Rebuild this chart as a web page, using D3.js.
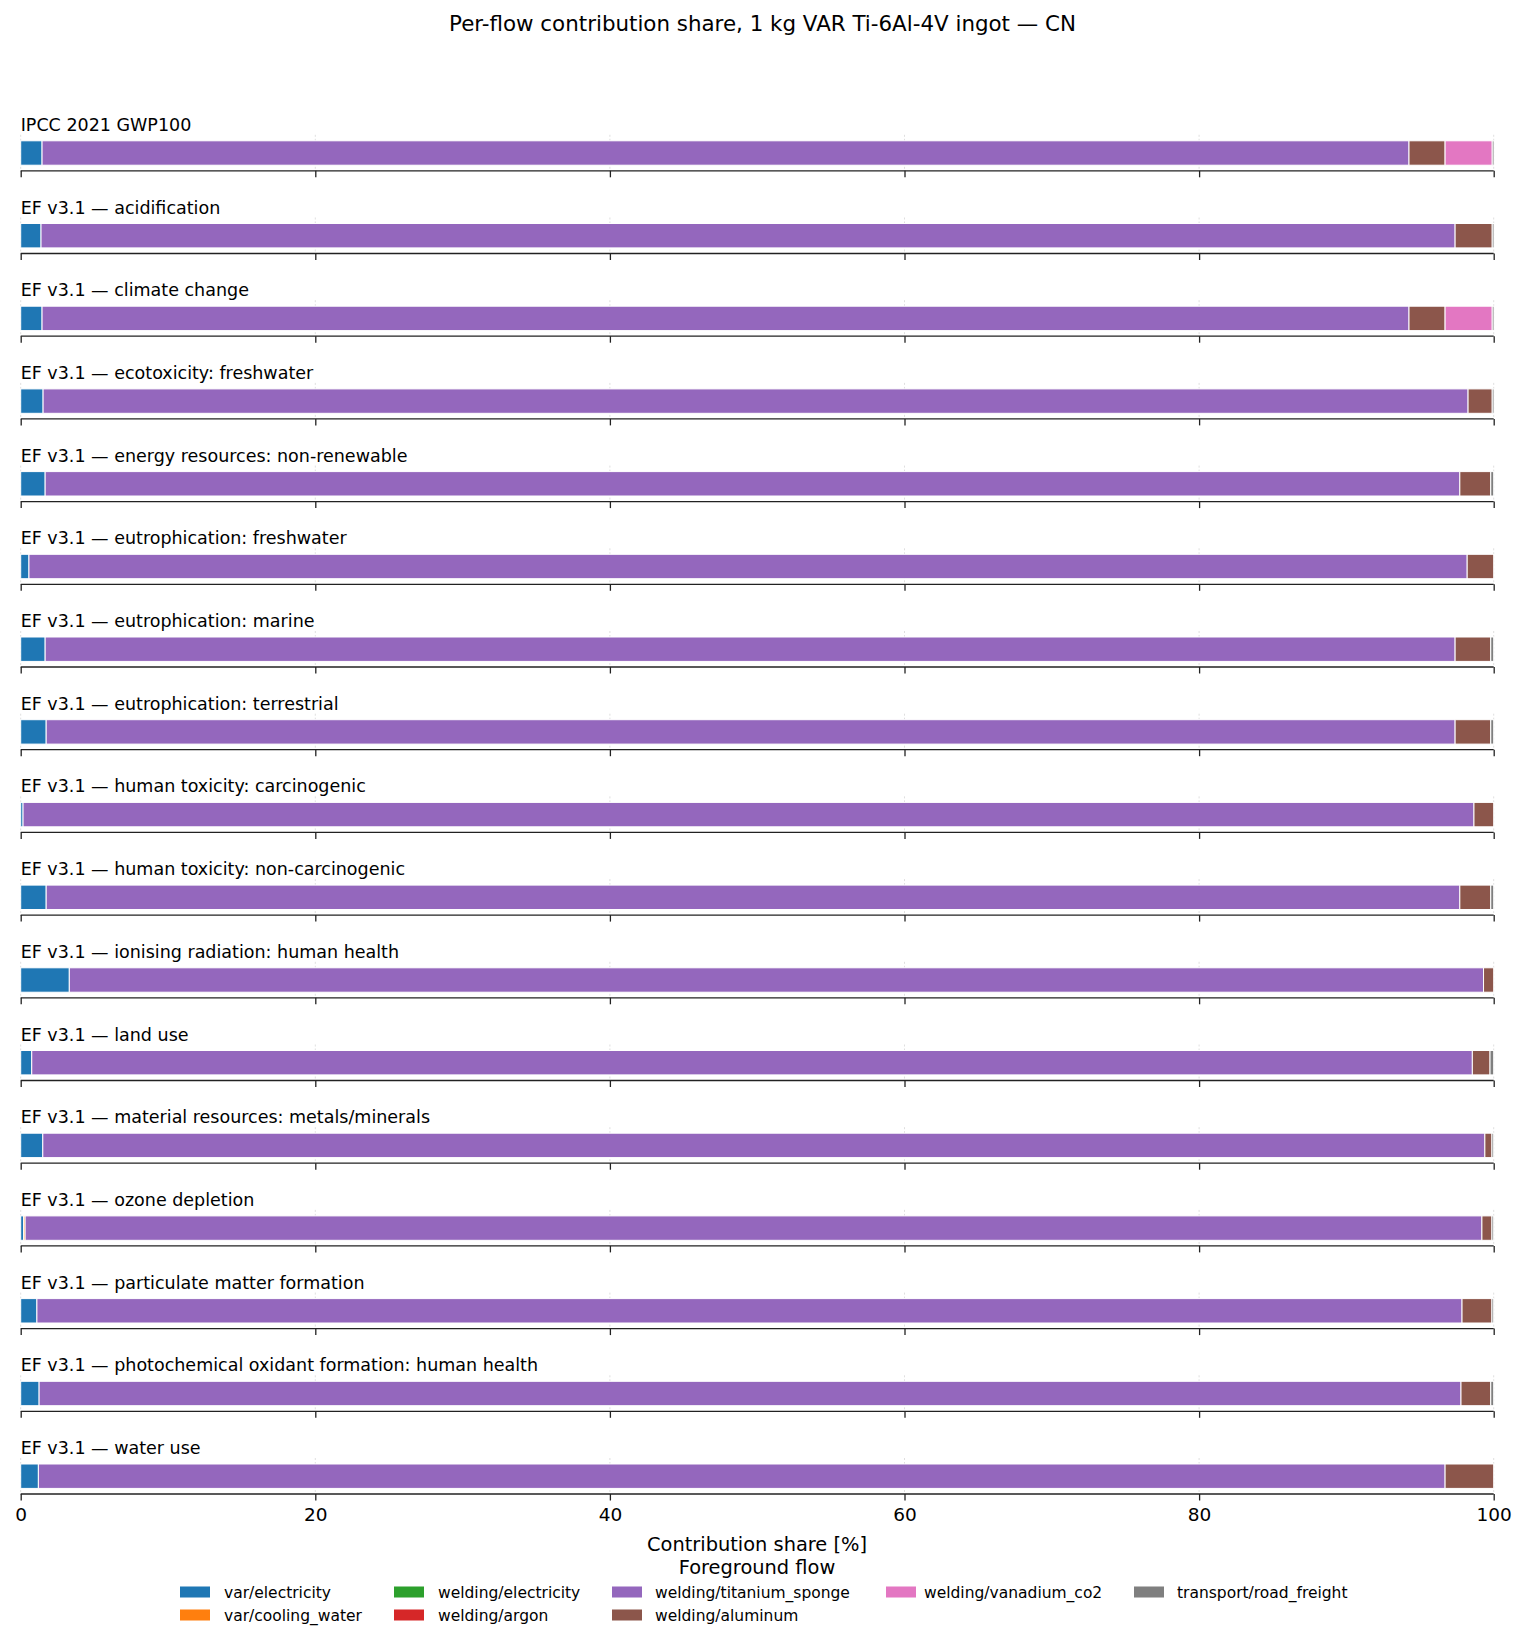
<!DOCTYPE html>
<meta charset="utf-8">
<style>
body { margin: 0; background: #fff; }
text { font-family: "DejaVu Sans", sans-serif; fill: #000; }
.spine path.domain { stroke: #222; stroke-width: 1.3px; }
.spine .tick line { stroke: #222; stroke-width: 1.3px; }
.spine .tick text { font-size: 18.5px; }
.grid line { stroke: #b0b0b0; stroke-opacity: 0.4; stroke-dasharray: 2,2; }
.seg rect { stroke: #fff; stroke-width: 1; }
</style>
<svg width="1525" height="1645"></svg>

<script src="https://cdn.jsdelivr.net/npm/d3@7"></script>
<script>

var categories = [
  "IPCC 2021 GWP100",
  "EF v3.1 — acidification",
  "EF v3.1 — climate change",
  "EF v3.1 — ecotoxicity: freshwater",
  "EF v3.1 — energy resources: non-renewable",
  "EF v3.1 — eutrophication: freshwater",
  "EF v3.1 — eutrophication: marine",
  "EF v3.1 — eutrophication: terrestrial",
  "EF v3.1 — human toxicity: carcinogenic",
  "EF v3.1 — human toxicity: non-carcinogenic",
  "EF v3.1 — ionising radiation: human health",
  "EF v3.1 — land use",
  "EF v3.1 — material resources: metals/minerals",
  "EF v3.1 — ozone depletion",
  "EF v3.1 — particulate matter formation",
  "EF v3.1 — photochemical oxidant formation: human health",
  "EF v3.1 — water use"
];

var flows = [
  "var/electricity", "var/cooling_water", "welding/electricity", "welding/argon",
  "welding/titanium_sponge", "welding/aluminum", "welding/vanadium_co2", "transport/road_freight"
];

// shares in %, one value per category
var varElectricity     = [1.45, 1.38, 1.45, 1.52, 1.66, 0.56, 1.66, 1.73, 0.16, 1.73, 3.30, 0.75, 1.50, 0.20, 1.10, 1.25, 1.20];
var varCoolingWater    = [0, 0, 0, 0, 0, 0, 0, 0, 0, 0, 0, 0, 0, 0.10, 0, 0, 0];
var weldingElectricity = [0, 0, 0, 0, 0, 0, 0, 0, 0, 0, 0, 0, 0, 0, 0, 0, 0];
var weldingArgon       = [0, 0, 0, 0, 0, 0, 0, 0, 0, 0, 0, 0, 0, 0, 0, 0, 0];
var titaniumSponge     = [92.80, 96.00, 92.80, 96.74, 96.04, 97.64, 95.72, 95.65, 98.50, 95.97, 96.01, 97.80, 97.90, 98.90, 96.75, 96.53, 95.50];
var weldingAluminum    = [2.45, 2.52, 2.45, 1.64, 2.10, 1.80, 2.42, 2.42, 1.34, 2.10, 0.69, 1.20, 0.48, 0.68, 2.03, 2.02, 3.30];
var vanadiumCo2        = [3.20, 0, 3.20, 0, 0, 0, 0, 0, 0, 0, 0, 0, 0, 0, 0, 0, 0];
var roadFreight        = [0.12, 0.12, 0.12, 0.12, 0.20, 0, 0.20, 0.20, 0, 0.20, 0, 0.25, 0.12, 0.12, 0.12, 0.20, 0];

var xTicks = [0, 20, 40, 60, 80, 100];

var series = [varElectricity, varCoolingWater, weldingElectricity, weldingArgon,
              titaniumSponge, weldingAluminum, vanadiumCo2, roadFreight];

var rows = categories.map(function(c, i) {
  var r = {name: c};
  flows.forEach(function(f, j) { r[f] = series[j][i]; });
  return r;
});

var svg = d3.select("svg");

var x = d3.scaleLinear().domain([0, 100]).range([20.7, 1493.7]);

var step = 82.7;
var y = d3.scaleBand().domain(categories).range([170.8 - step, 170.8 - step + categories.length * step]);

var z = d3.scaleOrdinal()
    .domain(flows)
    .range(["#1f77b4", "#ff7f0e", "#2ca02c", "#d62728", "#9467bd", "#8c564b", "#e377c2", "#7f7f7f"]);

var stacked = d3.stack().keys(flows)(rows);

// title
svg.append("text")
    .attr("x", 762.5)
    .attr("y", 30.5)
    .attr("text-anchor", "middle")
    .style("font-size", "21.4px")
    .text("Per-flow contribution share, 1 kg VAR Ti-6Al-4V ingot — CN");

var panels = svg.selectAll("g.panel")
  .data(categories)
  .enter().append("g")
    .attr("class", "panel")
    .attr("transform", function(d) { return "translate(0," + (y(d) + step) + ")"; });

// faint grid
panels.append("g")
    .attr("class", "grid")
  .selectAll("line")
  .data(xTicks)
  .enter().append("line")
    .attr("x1", function(d) { return x(d); })
    .attr("x2", function(d) { return x(d); })
    .attr("y1", -36)
    .attr("y2", 0);

panels.append("text")
    .attr("x", x(0))
    .attr("y", -40)
    .style("font-size", "17.5px")
    .text(function(d) { return d; });

panels.each(function(d, i) {
  var g = d3.select(this);
  g.append("g")
      .attr("class", "spine")
      .call(d3.axisBottom(x)
        .tickValues(xTicks)
        .tickSize(6.5)
        .tickSizeOuter(0)
        .tickPadding(7)
        .tickFormat(i === categories.length - 1 ? d3.format("d") : function() { return ""; }));
  g.select(".domain").attr("d", "M" + x(0) + ",0H" + x(100));
});

// stacked segments
var barTop = -30, barH = 24.4;
svg.append("g")
    .attr("class", "seg")
  .selectAll("g")
  .data(stacked)
  .enter().append("g")
    .attr("fill", function(d) { return z(d.key); })
  .selectAll("rect")
  .data(function(d) { return d.filter(function(p) { return p[1] - p[0] > 0; }); })
  .enter().append("rect")
    .attr("x", function(d) { return x(d[0]); })
    .attr("y", function(d) { return y(d.data.name) + step + barTop; })
    .attr("width", function(d) { return x(d[1]) - x(d[0]); })
    .attr("height", barH);

// x label
svg.append("text")
    .attr("x", 757)
    .attr("y", 1551)
    .attr("text-anchor", "middle")
    .style("font-size", "19.4px")
    .text("Contribution share [%]");

// legend
var legCols = [[180, 224], [394, 438], [612, 655], [886, 924], [1134, 1177]];
var legRows = [1592, 1615];
var perCol = [2, 2, 2, 1, 1];
var legItems = [];
var k = 0;
perCol.forEach(function(n, c) {
  for (var r = 0; r < n; r++) { legItems.push({name: flows[k], col: c, row: r}); k++; }
});

var legend = svg.append("g").attr("class", "legend");

legend.append("text")
    .attr("x", 757)
    .attr("y", 1574)
    .attr("text-anchor", "middle")
    .style("font-size", "19.4px")
    .text("Foreground flow");

var item = legend.selectAll("g.item")
  .data(legItems)
  .enter().append("g")
    .attr("class", "item")
    .attr("transform", function(d) { return "translate(0," + legRows[d.row] + ")"; });

item.append("rect")
    .attr("x", function(d) { return legCols[d.col][0]; })
    .attr("y", -5.5)
    .attr("width", 30)
    .attr("height", 11)
    .attr("fill", function(d) { return z(d.name); });

item.append("text")
    .attr("x", function(d) { return legCols[d.col][1]; })
    .attr("y", 5.5)
    .style("font-size", "15.5px")
    .text(function(d) { return d.name; });

</script>
